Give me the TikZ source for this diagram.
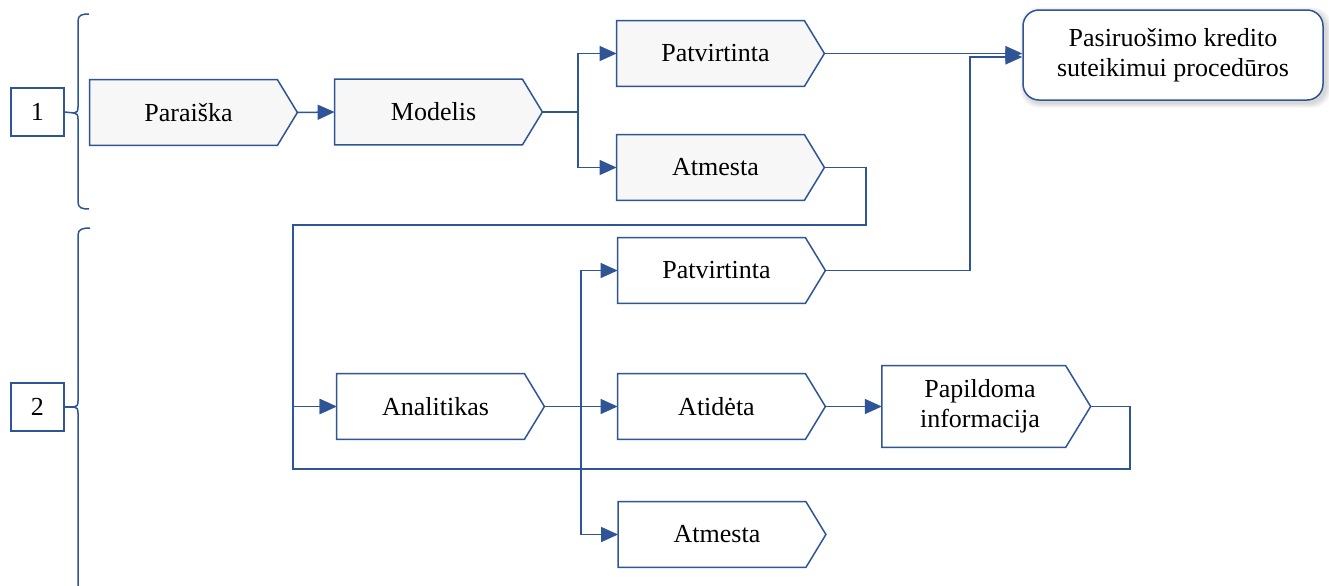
\documentclass[tikz,border=0pt]{standalone}
\usepackage{fontspec}
\setmainfont{Liberation Serif}
\usetikzlibrary{arrows.meta,calc,backgrounds}
\definecolor{flow}{HTML}{2F5597}
\definecolor{shade}{HTML}{F7F7F7}

\tikzset{
  line/.style={draw=flow, line width=0.75pt},
  arr/.style={line, -{Triangle[length=8.5pt,width=7.5pt]}},
  stage/.style={inner sep=0pt, minimum width=98.5pt, minimum height=32.5pt,
    font=\fontsize{13}{15}\selectfont, align=center},
  tall/.style={minimum width=97.75pt, minimum height=40.5pt},
  numbox/.style={draw=flow, line width=0.75pt, minimum width=26.5pt,
    minimum height=24pt, inner sep=0pt, font=\fontsize{13}{15}\selectfont},
  goalbox/.style={draw=flow, line width=0.75pt, rounded corners=8pt, fill=white,
    minimum width=150pt, minimum height=45pt, inner sep=0pt, align=center,
    font=\fontsize{13}{15}\selectfont}
}

\begin{document}
\begin{tikzpicture}[x=0.5pt,y=-0.5pt]
  % page
  \begin{scope}[on background layer]
    \fill[white] (0,0) rectangle (1329,585);
  \end{scope}
  \useasboundingbox (0,0) rectangle (1329,585);

  % stage labels
  \node[stage] (par)  at (188.5,112.5) {Paraiška};
  \node[stage] (mod)  at (433.5,112)   {Modelis};
  \node[stage] (pat1) at (715.5,53.5)  {Patvirtinta};
  \node[stage] (atm1) at (715.5,167.5) {Atmesta};
  \node[stage] (pat2) at (716.5,270.5) {Patvirtinta};
  \node[stage] (ana)  at (435.5,406.5) {Analitikas};
  \node[stage] (ati)  at (716.5,406.5) {Atidėta};
  \node[stage,tall] (pap) at (980,406.5) {Papildoma\\informacija};
  \node[stage] (atm2) at (717,534.5)   {Atmesta};

  \node[goalbox] (goal) at (1173,55) {Pasiruošimo kredito\\suteikimui procedūros};

  \begin{scope}[on background layer]
    % soft shadow of the final box
    \foreach \s in {1,...,5} {
      \fill[black, opacity=0.03, rounded corners=9pt]
        ($(goal.north west)+(3-\s,3-\s)$) rectangle ($(goal.south east)+(2+\s,2+\s)$);
    }
    % pointed outlines behind the labels
    \foreach \n/\d/\f in {par/10/shade, mod/10/shade, pat1/10/shade, atm1/10/shade,
        pat2/10/white, ana/10/white, ati/10/white, pap/12.5/white, atm2/10/white} {
      \draw[line, fill=\f] (\n.north west) -- ($(\n.north east)+(-\d,0)$)
        -- ($(\n.east)+(\d,0)$) -- ($(\n.south east)+(-\d,0)$)
        -- (\n.south west) -- cycle;
      \coordinate (\n-t) at ($(\n.east)+(\d,0)$);
    }
  \end{scope}

  % stage numbers and braces
  \node[numbox] (b1) at (37.5,112) {1};
  \node[numbox] (b2) at (37.5,407) {2};
  \coordinate (br1) at (74,113);
  \coordinate (br2) at (74,407);
  \draw[line] (89,14) .. controls (82,14) and (78,15) .. (78,21) -- (78,107)
    .. controls (78,111) and (77,113) .. (br1)
    .. controls (77,113) and (78,115) .. (78,119) -- (78,202)
    .. controls (78,208) and (82,209) .. (89,209);
  \draw[line] (90,228) .. controls (83,228) and (78,229) .. (78,235) -- (78,401)
    .. controls (78,405) and (77,407) .. (br2)
    .. controls (77,407) and (78,409) .. (78,413) -- (78,590);
  \draw[line] (b1.east) -- (br1);
  \draw[line] (b2.east) -- (br2);

  % junctions and bends
  \coordinate (j1) at (578,112);
  \coordinate (j2) at (581,406.5);
  \coordinate (m2) at (970,57);
  \coordinate (r1) at (866,225);
  \coordinate (l1) at (293,225);
  \coordinate (r2) at (1130,469);
  \coordinate (l2) at (293,469);

  % connectors
  \draw[arr] (par-t) -- (mod.west);
  \draw[line] (mod-t) -- (j1);
  \draw[arr] (j1) |- (pat1.west);
  \draw[arr] (j1) |- (atm1.west);
  \draw[arr] (pat1-t) -- (pat1-t -| goal.west);
  \draw[arr] (pat2-t) -| (m2) -- (m2 -| goal.west);
  \draw[arr] (atm1-t) -| (r1) -- (l1) |- (ana.west);
  \draw[arr] (pap-t) -| (r2) -- (l2) |- (ana.west);
  \draw[arr] (ana-t) -- (ati.west);
  \draw[arr] (j2) |- (pat2.west);
  \draw[arr] (j2) |- (atm2.west);
  \draw[arr] (ati-t) -- (pap.west);
\end{tikzpicture}
\end{document}
